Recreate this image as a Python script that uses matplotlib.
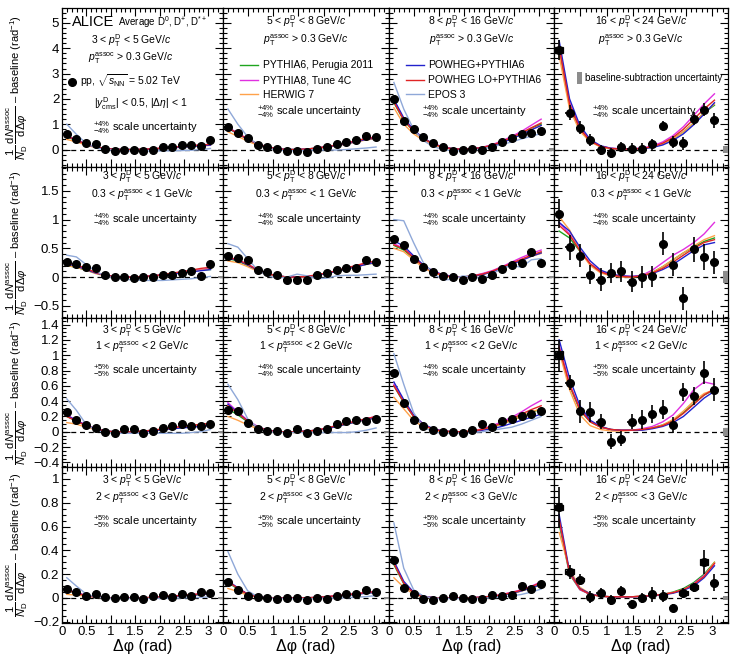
import matplotlib
matplotlib.use("Agg")
import matplotlib.pyplot as plt
from matplotlib.lines import Line2D
from matplotlib.patches import Patch, Rectangle
from matplotlib.ticker import MultipleLocator, FuncFormatter

plt.rcParams['font.family'] = ['Liberation Sans', 'DejaVu Sans']
plt.rcParams['mathtext.fontset'] = 'custom'
plt.rcParams['mathtext.rm'] = 'Liberation Sans'
plt.rcParams['mathtext.it'] = 'Liberation Sans:italic'
plt.rcParams['mathtext.bf'] = 'Liberation Sans:bold'

# ---------------- data ----------------
dphi = [0.098, 0.295, 0.491, 0.687, 0.884, 1.080, 1.276, 1.473,
        1.669, 1.865, 2.062, 2.258, 2.454, 2.651, 2.847, 3.043]

ptd_labels = ["3 < $p_{\\rm T}^{\\rm D}$ < 5 GeV/$c$",
              "5 < $p_{\\rm T}^{\\rm D}$ < 8 GeV/$c$",
              "8 < $p_{\\rm T}^{\\rm D}$ < 16 GeV/$c$",
              "16 < $p_{\\rm T}^{\\rm D}$ < 24 GeV/$c$"]
assoc_labels = ["$p_{\\rm T}^{\\rm assoc}$ > 0.3 GeV/$c$",
                "0.3 < $p_{\\rm T}^{\\rm assoc}$ < 1 GeV/$c$",
                "1 < $p_{\\rm T}^{\\rm assoc}$ < 2 GeV/$c$",
                "2 < $p_{\\rm T}^{\\rm assoc}$ < 3 GeV/$c$"]
scale_unc = [[4, 4, 4, 4], [4, 4, 4, 4], [5, 4, 4, 5], [5, 5, 5, 5]]
baseline_unc = [[0.03, 0.04, 0.05, 0.14], [0.01, 0.02, 0.02, 0.1],
                [0.01, 0.01, 0.01, 0.05], [0.005, 0.005, 0.005, 0.02]]

# Row 1: pT assoc > 0.3
data_r1 = [[0.61, 0.43, 0.26, 0.21, 0.04, -0.05, 0.0, -0.03, -0.05, 0.0, 0.11, 0.11, 0.17, 0.17, 0.13, 0.37],
           [0.9, 0.67, 0.47, 0.17, 0.1, 0.04, -0.07, -0.05, -0.09, 0.04, 0.1, 0.21, 0.3, 0.37, 0.53, 0.5],
           [2.0, 1.13, 0.83, 0.5, 0.24, 0.1, -0.05, -0.03, 0.04, 0.0, 0.1, 0.3, 0.47, 0.6, 0.66, 0.72],
           [3.92, 1.45, 0.86, 0.37, -0.03, -0.13, 0.1, 0.04, 0.04, 0.21, 0.92, 0.3, 0.24, 1.22, 1.58, 1.16]]
err_r1 = [[0.04, 0.04, 0.04, 0.04, 0.04, 0.04, 0.04, 0.04, 0.04, 0.04, 0.04, 0.04, 0.04, 0.04, 0.04, 0.05],
          [0.05, 0.05, 0.05, 0.05, 0.05, 0.05, 0.05, 0.05, 0.05, 0.05, 0.05, 0.05, 0.05, 0.05, 0.05, 0.05],
          [0.08, 0.07, 0.07, 0.06, 0.06, 0.06, 0.06, 0.06, 0.06, 0.06, 0.06, 0.06, 0.06, 0.06, 0.07, 0.07],
          [0.4, 0.3, 0.25, 0.25, 0.2, 0.2, 0.2, 0.2, 0.2, 0.22, 0.2, 0.22, 0.25, 0.25, 0.25, 0.3]]
p6_r1 = [[0.5, 0.35, 0.2, 0.1, 0.04, 0.01, 0.0, 0.0, 0.01, 0.03, 0.05, 0.08, 0.11, 0.14, 0.17, 0.19],
         [0.85, 0.62, 0.4, 0.22, 0.1, 0.03, 0.0, 0.0, 0.02, 0.06, 0.11, 0.17, 0.25, 0.33, 0.42, 0.48],
         [1.85, 1.15, 0.72, 0.42, 0.22, 0.09, 0.03, 0.01, 0.03, 0.08, 0.17, 0.3, 0.46, 0.64, 0.84, 1.0],
         [4.0, 1.75, 0.8, 0.33, 0.12, 0.04, 0.02, 0.02, 0.04, 0.1, 0.22, 0.42, 0.7, 1.05, 1.45, 1.75]]
p8_r1 = [[0.55, 0.38, 0.22, 0.11, 0.04, 0.01, 0.0, 0.0, 0.01, 0.03, 0.06, 0.09, 0.12, 0.15, 0.18, 0.21],
         [0.88, 0.65, 0.42, 0.23, 0.1, 0.03, 0.0, 0.0, 0.02, 0.06, 0.12, 0.18, 0.26, 0.35, 0.44, 0.5],
         [1.92, 1.2, 0.75, 0.44, 0.23, 0.1, 0.03, 0.01, 0.03, 0.09, 0.19, 0.34, 0.52, 0.72, 0.96, 1.2],
         [4.1, 1.85, 0.85, 0.35, 0.13, 0.05, 0.03, 0.03, 0.06, 0.14, 0.3, 0.55, 0.9, 1.35, 1.8, 2.2]]
hw_r1 = [[0.4, 0.3, 0.18, 0.08, 0.02, 0.0, -0.01, -0.01, 0.0, 0.02, 0.04, 0.07, 0.1, 0.13, 0.15, 0.17],
         [0.7, 0.52, 0.33, 0.17, 0.07, 0.01, -0.02, -0.02, 0.0, 0.04, 0.09, 0.15, 0.22, 0.3, 0.38, 0.43],
         [1.65, 1.0, 0.62, 0.36, 0.18, 0.07, 0.01, -0.01, 0.01, 0.06, 0.15, 0.28, 0.44, 0.62, 0.8, 0.95],
         [3.7, 1.6, 0.72, 0.3, 0.1, 0.03, 0.01, 0.02, 0.04, 0.1, 0.22, 0.42, 0.7, 1.05, 1.45, 1.8]]
pw_r1 = [[0.52, 0.37, 0.21, 0.1, 0.04, 0.01, 0.0, 0.0, 0.0, 0.02, 0.04, 0.07, 0.09, 0.12, 0.15, 0.17],
         [0.85, 0.63, 0.4, 0.22, 0.1, 0.03, 0.0, 0.0, 0.01, 0.05, 0.1, 0.16, 0.23, 0.31, 0.4, 0.46],
         [1.98, 1.25, 0.78, 0.45, 0.23, 0.1, 0.03, 0.0, 0.02, 0.07, 0.15, 0.27, 0.42, 0.6, 0.78, 0.95],
         [4.3, 2.0, 0.95, 0.4, 0.15, 0.05, 0.02, 0.02, 0.03, 0.08, 0.18, 0.36, 0.62, 0.98, 1.4, 1.85]]
pwlo_r1 = [[0.53, 0.37, 0.21, 0.1, 0.04, 0.01, 0.0, 0.0, 0.01, 0.03, 0.06, 0.09, 0.12, 0.15, 0.18, 0.2],
           [0.86, 0.63, 0.41, 0.22, 0.1, 0.03, 0.0, 0.0, 0.02, 0.06, 0.11, 0.18, 0.26, 0.34, 0.43, 0.49],
           [1.88, 1.17, 0.73, 0.43, 0.22, 0.09, 0.03, 0.01, 0.03, 0.08, 0.17, 0.31, 0.48, 0.66, 0.86, 1.05],
           [4.05, 1.8, 0.82, 0.34, 0.12, 0.04, 0.02, 0.02, 0.04, 0.11, 0.25, 0.48, 0.8, 1.2, 1.6, 1.95]]
epos_r1 = [[1.0, 0.6, 0.25, 0.07, 0.0, -0.03, -0.05, -0.06, -0.06, -0.06, -0.05, -0.05, -0.04, -0.03, 0.0, 0.04],
           [1.6, 1.0, 0.5, 0.2, 0.05, -0.02, -0.05, -0.05, -0.03, -0.02, -0.02, -0.02, 0.0, 0.03, 0.06, 0.1],
           [2.65, 1.6, 0.8, 0.35, 0.12, 0.0, -0.05, -0.05, -0.03, 0.02, 0.1, 0.2, 0.3, 0.42, 0.53, 0.63]]

# Row 2: 0.3 < pT assoc < 1
data_r2 = [[0.27, 0.23, 0.17, 0.15, 0.04, 0.0, 0.0, -0.02, 0.0, 0.0, 0.04, 0.04, 0.07, 0.1, 0.02, 0.23],
           [0.36, 0.33, 0.29, 0.13, 0.09, 0.04, -0.06, -0.06, -0.06, 0.04, 0.07, 0.13, 0.16, 0.16, 0.3, 0.26],
           [0.67, 0.56, 0.31, 0.17, 0.09, 0.01, 0.0, -0.06, 0.0, -0.03, 0.04, 0.14, 0.21, 0.24, 0.43, 0.24],
           [1.10, 0.52, 0.37, 0.04, -0.05, 0.07, 0.1, -0.08, 0.0, 0.01, 0.58, 0.21, -0.37, 0.48, 0.35, 0.26]]
err_r2 = [[0.03, 0.03, 0.03, 0.03, 0.03, 0.03, 0.03, 0.03, 0.03, 0.03, 0.03, 0.03, 0.03, 0.03, 0.03, 0.04],
          [0.03, 0.03, 0.03, 0.03, 0.03, 0.03, 0.03, 0.03, 0.03, 0.03, 0.03, 0.03, 0.03, 0.03, 0.03, 0.03],
          [0.05, 0.05, 0.04, 0.04, 0.04, 0.04, 0.04, 0.04, 0.04, 0.04, 0.04, 0.04, 0.04, 0.04, 0.04, 0.04],
          [0.25, 0.22, 0.2, 0.17, 0.2, 0.18, 0.18, 0.18, 0.2, 0.18, 0.2, 0.2, 0.2, 0.22, 0.22, 0.2]]
p6_r2 = [[0.2, 0.17, 0.12, 0.07, 0.03, 0.01, 0.0, 0.0, 0.01, 0.02, 0.04, 0.06, 0.08, 0.1, 0.12, 0.13],
         [0.32, 0.28, 0.2, 0.12, 0.06, 0.02, 0.0, 0.0, 0.01, 0.03, 0.06, 0.1, 0.14, 0.18, 0.22, 0.25],
         [0.55, 0.47, 0.33, 0.19, 0.09, 0.03, 0.0, 0.0, 0.02, 0.05, 0.1, 0.16, 0.23, 0.3, 0.37, 0.42],
         [0.8, 0.68, 0.45, 0.22, 0.09, 0.03, 0.01, 0.0, 0.02, 0.08, 0.18, 0.3, 0.42, 0.52, 0.62, 0.68]]
p8_r2 = [[0.24, 0.2, 0.14, 0.08, 0.03, 0.01, 0.0, 0.0, 0.01, 0.02, 0.04, 0.06, 0.09, 0.11, 0.13, 0.15],
         [0.35, 0.3, 0.22, 0.13, 0.06, 0.02, 0.0, 0.0, 0.01, 0.03, 0.07, 0.11, 0.15, 0.2, 0.24, 0.28],
         [0.58, 0.5, 0.35, 0.2, 0.1, 0.04, 0.01, 0.0, 0.02, 0.06, 0.11, 0.18, 0.26, 0.34, 0.41, 0.47],
         [0.95, 0.75, 0.47, 0.23, 0.1, 0.04, 0.02, 0.01, 0.03, 0.12, 0.25, 0.38, 0.48, 0.6, 0.75, 0.95]]
hw_r2 = [[0.2, 0.17, 0.12, 0.06, 0.02, 0.0, -0.01, -0.01, 0.0, 0.01, 0.03, 0.05, 0.08, 0.1, 0.12, 0.14],
         [0.28, 0.25, 0.18, 0.1, 0.04, 0.01, -0.01, -0.01, 0.0, 0.03, 0.06, 0.1, 0.14, 0.18, 0.22, 0.25],
         [0.5, 0.44, 0.3, 0.16, 0.07, 0.02, -0.01, -0.01, 0.01, 0.04, 0.09, 0.15, 0.22, 0.29, 0.36, 0.41],
         [1.05, 0.82, 0.45, 0.2, 0.07, 0.02, 0.0, 0.0, 0.02, 0.08, 0.18, 0.3, 0.42, 0.54, 0.65, 0.72]]
pw_r2 = [[0.23, 0.19, 0.13, 0.07, 0.03, 0.01, 0.0, 0.0, 0.0, 0.02, 0.03, 0.05, 0.07, 0.09, 0.11, 0.13],
         [0.33, 0.29, 0.21, 0.12, 0.06, 0.02, 0.0, 0.0, 0.01, 0.03, 0.06, 0.1, 0.14, 0.18, 0.22, 0.26],
         [0.63, 0.54, 0.37, 0.21, 0.1, 0.04, 0.01, 0.0, 0.01, 0.04, 0.09, 0.15, 0.22, 0.29, 0.36, 0.42],
         [0.95, 0.8, 0.52, 0.28, 0.12, 0.05, 0.02, 0.01, 0.02, 0.06, 0.13, 0.22, 0.34, 0.46, 0.56, 0.6]]
pwlo_r2 = [[0.25, 0.21, 0.15, 0.08, 0.03, 0.01, 0.0, 0.0, 0.01, 0.02, 0.04, 0.07, 0.09, 0.12, 0.15, 0.17],
           [0.34, 0.3, 0.22, 0.13, 0.06, 0.02, 0.0, 0.0, 0.01, 0.04, 0.07, 0.11, 0.16, 0.2, 0.25, 0.28],
           [0.56, 0.49, 0.34, 0.19, 0.09, 0.03, 0.0, 0.0, 0.02, 0.05, 0.1, 0.17, 0.24, 0.31, 0.38, 0.44],
           [0.9, 0.73, 0.46, 0.23, 0.09, 0.03, 0.01, 0.0, 0.02, 0.07, 0.15, 0.26, 0.38, 0.5, 0.6, 0.65]]
epos_r2 = [[0.38, 0.35, 0.22, 0.1, 0.02, -0.02, -0.04, -0.05, -0.06, -0.06, -0.06, -0.05, -0.04, -0.03, -0.01, 0.01],
           [0.58, 0.52, 0.32, 0.12, 0.02, -0.02, 0.0, 0.05, 0.02, -0.03, -0.02, 0.02, 0.03, 0.03, 0.04, 0.05],
           [1.0, 0.98, 0.6, 0.25, 0.06, -0.05, -0.04, 0.02, 0.0, -0.03, 0.05, 0.15, 0.2, 0.17, 0.3, 0.32]]

# Row 3: 1 < pT assoc < 2
data_r3 = [[0.26, 0.16, 0.09, 0.05, 0.0, -0.02, 0.04, 0.035, -0.01, 0.01, 0.05, 0.07, 0.1, 0.07, 0.07, 0.1],
           [0.29, 0.27, 0.12, 0.04, 0.01, 0.01, -0.01, 0.03, -0.01, 0.01, 0.04, 0.1, 0.14, 0.16, 0.14, 0.17],
           [0.77, 0.38, 0.16, 0.07, 0.02, 0.0, 0.0, -0.01, 0.02, 0.1, 0.06, 0.14, 0.17, 0.21, 0.23, 0.27],
           [1.0, 0.64, 0.27, 0.26, 0.13, -0.13, -0.09, 0.13, 0.16, 0.23, 0.29, 0.09, 0.52, 0.47, 0.77, 0.55]]
err_r3 = [[0.02, 0.02, 0.02, 0.02, 0.02, 0.02, 0.02, 0.02, 0.02, 0.02, 0.02, 0.02, 0.02, 0.02, 0.02, 0.02],
          [0.02, 0.02, 0.02, 0.02, 0.02, 0.02, 0.02, 0.02, 0.02, 0.02, 0.02, 0.02, 0.02, 0.02, 0.02, 0.02],
          [0.04, 0.03, 0.03, 0.03, 0.03, 0.03, 0.03, 0.03, 0.03, 0.03, 0.03, 0.03, 0.03, 0.03, 0.03, 0.03],
          [0.2, 0.1, 0.15, 0.13, 0.1, 0.1, 0.1, 0.1, 0.12, 0.12, 0.12, 0.1, 0.12, 0.12, 0.15, 0.15]]
p6_r3 = [[0.2, 0.14, 0.08, 0.04, 0.01, 0.0, 0.0, 0.0, 0.01, 0.02, 0.03, 0.05, 0.06, 0.07, 0.08, 0.09],
         [0.3, 0.22, 0.13, 0.06, 0.02, 0.0, 0.0, 0.0, 0.01, 0.02, 0.04, 0.07, 0.1, 0.13, 0.16, 0.18],
         [0.6, 0.38, 0.2, 0.09, 0.03, 0.01, 0.0, 0.0, 0.01, 0.03, 0.06, 0.1, 0.15, 0.2, 0.25, 0.3],
         [1.1, 0.6, 0.28, 0.13, 0.06, 0.03, 0.02, 0.02, 0.03, 0.05, 0.09, 0.15, 0.25, 0.37, 0.48, 0.55]]
p8_r3 = [[0.22, 0.15, 0.09, 0.04, 0.01, 0.0, 0.0, 0.0, 0.01, 0.02, 0.03, 0.05, 0.07, 0.08, 0.09, 0.1],
         [0.38, 0.26, 0.15, 0.07, 0.02, 0.0, 0.0, 0.0, 0.01, 0.02, 0.05, 0.08, 0.11, 0.14, 0.17, 0.2],
         [0.62, 0.4, 0.21, 0.1, 0.03, 0.01, 0.0, 0.0, 0.01, 0.04, 0.08, 0.13, 0.19, 0.26, 0.34, 0.41],
         [1.12, 0.62, 0.3, 0.14, 0.06, 0.03, 0.02, 0.02, 0.04, 0.07, 0.13, 0.22, 0.37, 0.55, 0.65, 0.62]]
hw_r3 = [[0.12, 0.1, 0.06, 0.03, 0.0, -0.01, -0.01, 0.0, 0.0, 0.01, 0.03, 0.04, 0.06, 0.07, 0.08, 0.09],
         [0.2, 0.15, 0.09, 0.04, 0.01, -0.01, -0.01, -0.01, 0.0, 0.02, 0.04, 0.07, 0.1, 0.13, 0.16, 0.18],
         [0.45, 0.3, 0.15, 0.06, 0.01, -0.01, -0.01, 0.0, 0.01, 0.03, 0.06, 0.1, 0.15, 0.2, 0.26, 0.3],
         [1.05, 0.55, 0.22, 0.08, 0.03, 0.01, 0.01, 0.02, 0.03, 0.05, 0.09, 0.16, 0.27, 0.4, 0.5, 0.55]]
pw_r3 = [[0.21, 0.15, 0.08, 0.04, 0.01, 0.0, 0.0, 0.0, 0.0, 0.01, 0.03, 0.04, 0.05, 0.06, 0.07, 0.08],
         [0.36, 0.25, 0.14, 0.06, 0.02, 0.0, 0.0, 0.0, 0.01, 0.02, 0.04, 0.07, 0.1, 0.13, 0.16, 0.18],
         [0.65, 0.42, 0.22, 0.1, 0.04, 0.01, 0.0, 0.0, 0.0, 0.02, 0.04, 0.07, 0.11, 0.15, 0.19, 0.23],
         [1.2, 0.7, 0.34, 0.15, 0.07, 0.03, 0.02, 0.02, 0.02, 0.04, 0.07, 0.12, 0.2, 0.32, 0.44, 0.53]]
pwlo_r3 = [[0.2, 0.14, 0.08, 0.04, 0.01, 0.0, 0.0, 0.0, 0.01, 0.02, 0.04, 0.05, 0.07, 0.08, 0.1, 0.11],
           [0.34, 0.24, 0.14, 0.06, 0.02, 0.0, 0.0, 0.0, 0.01, 0.02, 0.05, 0.08, 0.11, 0.14, 0.17, 0.2],
           [0.6, 0.39, 0.2, 0.09, 0.03, 0.01, 0.0, 0.0, 0.01, 0.03, 0.07, 0.11, 0.17, 0.23, 0.29, 0.34],
           [1.1, 0.62, 0.29, 0.13, 0.06, 0.03, 0.02, 0.02, 0.03, 0.05, 0.08, 0.14, 0.24, 0.36, 0.48, 0.56]]
epos_r3 = [[0.43, 0.28, 0.1, 0.02, -0.01, -0.02, -0.02, -0.02, -0.02, -0.02, -0.02, -0.02, -0.02, -0.01, 0.0, 0.03],
           [0.62, 0.42, 0.17, 0.05, 0.0, -0.01, -0.01, -0.01, -0.01, -0.01, -0.01, -0.01, -0.01, 0.0, 0.02, 0.05],
           [1.02, 0.62, 0.25, 0.06, 0.0, -0.02, -0.02, -0.02, -0.01, 0.0, 0.02, 0.04, 0.06, 0.1, 0.15, 0.2]]

# Row 4: 2 < pT assoc < 3
data_r4 = [[0.076, 0.048, 0.014, 0.036, 0.008, 0.0, 0.008, 0.008, -0.006, 0.02, 0.022, 0.008, 0.036, 0.02, 0.048, 0.042],
           [0.134, 0.07, 0.014, 0.008, 0.003, -0.006, 0.003, 0.003, -0.014, 0.003, -0.011, 0.014, 0.036, 0.03, 0.07, 0.05],
           [0.32, 0.087, 0.03, -0.006, -0.014, 0.003, 0.017, 0.0, -0.011, -0.01, 0.028, 0.017, 0.028, 0.1, 0.076, 0.12],
           [0.76, 0.22, 0.155, 0.01, 0.04, -0.015, 0.06, -0.05, 0.0, 0.03, 0.02, -0.08, 0.04, 0.09, 0.3, 0.13]]
err_r4 = [[0.012, 0.01, 0.01, 0.01, 0.01, 0.01, 0.01, 0.01, 0.01, 0.01, 0.01, 0.01, 0.01, 0.01, 0.01, 0.012],
          [0.015, 0.012, 0.01, 0.01, 0.01, 0.01, 0.01, 0.01, 0.01, 0.01, 0.01, 0.01, 0.01, 0.01, 0.012, 0.012],
          [0.025, 0.015, 0.015, 0.015, 0.015, 0.015, 0.015, 0.015, 0.015, 0.015, 0.015, 0.015, 0.015, 0.015, 0.015, 0.015],
          [0.17, 0.06, 0.05, 0.05, 0.04, 0.04, 0.04, 0.03, 0.04, 0.06, 0.05, 0.03, 0.04, 0.04, 0.1, 0.07]]
p6_r4 = [[0.065, 0.04, 0.02, 0.008, 0.003, 0.0, 0.0, 0.0, 0.002, 0.005, 0.01, 0.015, 0.02, 0.025, 0.03, 0.035],
         [0.13, 0.075, 0.03, 0.01, 0.003, 0.0, 0.0, 0.0, 0.002, 0.005, 0.01, 0.017, 0.025, 0.034, 0.043, 0.05],
         [0.28, 0.12, 0.04, 0.012, 0.003, 0.0, 0.0, 0.0, 0.002, 0.006, 0.013, 0.024, 0.04, 0.06, 0.085, 0.11],
         [0.62, 0.2, 0.07, 0.03, 0.015, 0.01, 0.01, 0.01, 0.015, 0.02, 0.03, 0.05, 0.08, 0.13, 0.2, 0.3]]
p8_r4 = [[0.07, 0.045, 0.022, 0.009, 0.003, 0.0, 0.0, 0.0, 0.002, 0.006, 0.011, 0.017, 0.023, 0.029, 0.035, 0.04],
         [0.14, 0.08, 0.032, 0.011, 0.003, 0.0, 0.0, 0.0, 0.002, 0.006, 0.012, 0.02, 0.028, 0.037, 0.047, 0.055],
         [0.3, 0.13, 0.045, 0.013, 0.003, 0.0, 0.0, 0.0, 0.003, 0.008, 0.016, 0.03, 0.048, 0.07, 0.1, 0.135],
         [0.65, 0.21, 0.07, 0.03, 0.015, 0.01, 0.01, 0.01, 0.015, 0.02, 0.03, 0.045, 0.07, 0.12, 0.19, 0.29]]
hw_r4 = [[0.03, 0.025, 0.015, 0.006, 0.001, -0.002, -0.002, -0.001, 0.001, 0.005, 0.01, 0.015, 0.02, 0.026, 0.032, 0.036],
         [0.08, 0.055, 0.022, 0.007, 0.0, -0.003, -0.003, -0.002, 0.0, 0.004, 0.009, 0.016, 0.024, 0.033, 0.042, 0.048],
         [0.17, 0.09, 0.032, 0.008, 0.0, -0.003, -0.003, -0.002, 0.0, 0.005, 0.012, 0.023, 0.038, 0.058, 0.085, 0.115],
         [0.55, 0.24, 0.09, 0.035, 0.015, 0.01, 0.01, 0.01, 0.015, 0.02, 0.03, 0.045, 0.07, 0.11, 0.18, 0.3]]
pw_r4 = [[0.068, 0.042, 0.02, 0.008, 0.003, 0.0, 0.0, 0.0, 0.001, 0.004, 0.008, 0.013, 0.018, 0.024, 0.029, 0.034],
         [0.145, 0.085, 0.033, 0.011, 0.003, 0.0, 0.0, 0.0, 0.001, 0.004, 0.009, 0.015, 0.023, 0.031, 0.04, 0.047],
         [0.31, 0.14, 0.05, 0.015, 0.004, 0.0, 0.0, 0.0, 0.002, 0.006, 0.013, 0.024, 0.04, 0.06, 0.085, 0.115],
         [0.7, 0.22, 0.08, 0.035, 0.015, 0.01, 0.01, 0.01, 0.012, 0.018, 0.026, 0.04, 0.065, 0.1, 0.17, 0.27]]
pwlo_r4 = [[0.066, 0.041, 0.02, 0.008, 0.003, 0.0, 0.0, 0.0, 0.002, 0.005, 0.01, 0.016, 0.022, 0.028, 0.035, 0.04],
           [0.14, 0.08, 0.031, 0.01, 0.003, 0.0, 0.0, 0.0, 0.002, 0.005, 0.011, 0.019, 0.027, 0.036, 0.046, 0.054],
           [0.29, 0.125, 0.042, 0.012, 0.003, 0.0, 0.0, 0.0, 0.003, 0.007, 0.015, 0.028, 0.045, 0.066, 0.095, 0.13],
           [0.66, 0.21, 0.075, 0.03, 0.015, 0.01, 0.01, 0.01, 0.015, 0.02, 0.03, 0.045, 0.07, 0.115, 0.18, 0.29]]
epos_r4 = [[0.17, 0.1, 0.035, 0.008, 0.0, -0.003, -0.004, -0.004, -0.004, -0.004, -0.003, -0.002, 0.0, 0.002, 0.005, 0.01],
           [0.39, 0.2, 0.06, 0.012, 0.0, -0.004, -0.005, -0.005, -0.005, -0.004, -0.003, -0.001, 0.002, 0.006, 0.012, 0.02],
           [0.63, 0.25, 0.07, 0.015, 0.0, -0.004, -0.005, -0.005, -0.004, -0.002, 0.002, 0.008, 0.018, 0.03, 0.05, 0.075]]

# systematic boxes (visible in highest pT^D column)
syst_c4 = [[0.12, 0.0, 0.0, 0.0, 0.0, 0.0, 0.0, 0.0, 0.0, 0.0, 0.0, 0.0, 0.0, 0.0, 0.0, 0.0],
           [0.0, 0.0, 0.0, 0.0, 0.0, 0.0, 0.0, 0.0, 0.0, 0.0, 0.0, 0.0, 0.0, 0.0, 0.0, 0.0],
           [0.05, 0.0, 0.0, 0.0, 0.0, 0.0, 0.0, 0.0, 0.0, 0.0, 0.0, 0.0, 0.0, 0.0, 0.0, 0.0],
           [0.025, 0.02, 0.015, 0.0, 0.0, 0.0, 0.0, 0.0, 0.0, 0.0, 0.015, 0.0, 0.015, 0.015, 0.025, 0.0]]

rows = [
    dict(data=data_r1, err=err_r1, p6=p6_r1, p8=p8_r1, hw=hw_r1, pw=pw_r1, pwlo=pwlo_r1, epos=epos_r1),
    dict(data=data_r2, err=err_r2, p6=p6_r2, p8=p8_r2, hw=hw_r2, pw=pw_r2, pwlo=pwlo_r2, epos=epos_r2),
    dict(data=data_r3, err=err_r3, p6=p6_r3, p8=p8_r3, hw=hw_r3, pw=pw_r3, pwlo=pwlo_r3, epos=epos_r3),
    dict(data=data_r4, err=err_r4, p6=p6_r4, p8=p8_r4, hw=hw_r4, pw=pw_r4, pwlo=pwlo_r4, epos=epos_r4),
]

model_names = ["PYTHIA6, Perugia 2011", "PYTHIA8, Tune 4C", "HERWIG 7",
               "POWHEG+PYTHIA6", "POWHEG LO+PYTHIA6", "EPOS 3"]
model_keys = ["p6", "p8", "hw", "pw", "pwlo", "epos"]
model_colors = ["#1fa51f", "#e030e0", "#ffa24a", "#2222cc", "#e02424", "#8fa8d8"]

ylims = [(-0.69, 5.59), (-0.714, 1.916), (-0.46, 1.486), (-0.21, 1.10)]
ymajor = [1.0, 0.5, 0.2, 0.2]
yminor = [0.2, 0.1, 0.05, 0.05]
text_y = [(0.912, 0.80, 0.346), (0.934, 0.815, 0.65), (0.913, 0.805, 0.65), (0.91, 0.80, 0.65)]

# ---------------- layout ----------------
W, H = 736, 656
fig = plt.figure(figsize=(W / 100, H / 100), dpi=100)
col_edges = [62, 223, 389, 554, 728]
row_edges = [8, 167, 318, 467, 623]

fmt = FuncFormatter(lambda v, p: ("%g" % round(v, 4)).replace("-", "\u2212") if abs(v) > 1e-9 else "0")

ylabel = (r"$\dfrac{1}{N_{\rm D}}\,\dfrac{{\rm d}N^{\rm assoc}}{{\rm d}\Delta\varphi}$"
          " \u2013 baseline (rad$^{-1}$)")

FS = 7.5
for r in range(4):
    R = rows[r]
    for c in range(4):
        x0, x1 = col_edges[c], col_edges[c + 1]
        y0, y1 = row_edges[r], row_edges[r + 1]
        ax = fig.add_axes([x0 / W, 1 - y1 / H, (x1 - x0) / W, (y1 - y0) / H])
        ax.set_xlim(0, 3.3)
        ax.set_ylim(*ylims[r])
        ax.axhline(0, color="black", lw=0.9, ls=(0, (4, 3)), zorder=1)

        # models
        for key, col in zip(model_keys, model_colors):
            vals = R[key]
            if c < len(vals):
                ax.plot(dphi, vals[c], color=col, lw=1.0, zorder=2)

        # baseline subtraction uncertainty
        b = baseline_unc[r][c]
        ax.add_patch(Rectangle((3.2, -b), 0.1, 2 * b, facecolor="#8c8c8c",
                               edgecolor="none", zorder=3))

        # systematic boxes
        if c == 3:
            for xv, yv, s in zip(dphi, R["data"][c], syst_c4[r]):
                if s > 0:
                    ax.add_patch(Rectangle((xv - 0.08, yv - s), 0.16, 2 * s, fill=False,
                                           edgecolor="black", lw=0.9, zorder=4))

        # data
        ax.errorbar(dphi, R["data"][c], yerr=R["err"][c], xerr=0.08, fmt="o",
                    color="black", ms=5.5, elinewidth=1.2, capsize=0, zorder=5)

        # ticks
        ax.xaxis.set_major_locator(MultipleLocator(0.5))
        ax.xaxis.set_minor_locator(MultipleLocator(0.1))
        ax.yaxis.set_major_locator(MultipleLocator(ymajor[r]))
        ax.yaxis.set_minor_locator(MultipleLocator(yminor[r]))
        ax.tick_params(which="both", direction="in", top=True, right=True,
                       labelsize=9.5, width=0.8, pad=2)
        ax.tick_params(which="major", length=6)
        ax.tick_params(which="minor", length=3)
        ax.yaxis.set_major_formatter(fmt)
        ax.xaxis.set_major_formatter(fmt)
        if c > 0:
            ax.tick_params(labelleft=False)
        if r < 3:
            ax.tick_params(labelbottom=False)
        else:
            ax.set_xlabel("\u0394\u03c6 (rad)", fontsize=11.5, labelpad=1)
        for sp in ax.spines.values():
            sp.set_linewidth(0.9)

        ty1, ty2, ty3 = text_y[r]
        su = scale_unc[r][c]
        stxt = r"$^{+%d\%%}_{-%d\%%}$ scale uncertainty" % (su, su)
        if r == 0 and c == 0:
            ax.text(0.062, 0.912, "ALICE", transform=ax.transAxes, fontsize=10.5,
                    va="center", ha="left")
            ax.text(0.345, 0.912, "Average D$^{0}$, D$^{+}$, D$^{*+}$", transform=ax.transAxes,
                    fontsize=7.0, va="center", ha="left")
            ax.text(0.43, 0.792, ptd_labels[c], transform=ax.transAxes, fontsize=FS,
                    va="center", ha="center")
            ax.text(0.43, 0.686, assoc_labels[r], transform=ax.transAxes, fontsize=FS,
                    va="center", ha="center")
            h = Line2D([], [], marker="o", color="black", ls="none", ms=5.5)
            ax.legend([h], ["pp, $\\sqrt{s_{\\rm NN}}$ = 5.02 TeV"], loc="center left",
                      bbox_to_anchor=(0.03, 0.541), frameon=False, fontsize=FS,
                      handlelength=1.0, handletextpad=0.3, borderpad=0, borderaxespad=0)
            ax.text(0.49, 0.40, "|$y^{\\rm D}_{\\rm cms}$| < 0.5, |$\\Delta\\eta$| < 1",
                    transform=ax.transAxes, fontsize=FS, va="center", ha="center")
            ax.text(0.515, 0.245, stxt, transform=ax.transAxes, fontsize=8,
                    va="center", ha="center")
        else:
            ax.text(0.5, ty1, ptd_labels[c], transform=ax.transAxes, fontsize=FS,
                    va="center", ha="center")
            ax.text(0.5, ty2, assoc_labels[r], transform=ax.transAxes, fontsize=FS,
                    va="center", ha="center")
            ax.text(0.52, ty3, stxt, transform=ax.transAxes, fontsize=8,
                    va="center", ha="center")

        if r == 0 and c in (1, 2):
            idx = [0, 1, 2] if c == 1 else [3, 4, 5]
            hs = [Line2D([], [], color=model_colors[i], lw=1.0) for i in idx]
            ax.legend(hs, [model_names[i] for i in idx], loc="upper left",
                      bbox_to_anchor=(0.10, 0.67), frameon=False, fontsize=FS,
                      handlelength=1.8, handletextpad=0.4, borderpad=0,
                      borderaxespad=0, labelspacing=0.45)
        if r == 0 and c == 3:
            hp = Patch(facecolor="#8c8c8c", edgecolor="none")
            ax.legend([hp], ["baseline-subtraction uncertainty"], loc="center left",
                      bbox_to_anchor=(0.135, 0.56), frameon=False, fontsize=7,
                      handlelength=0.5, handleheight=1.4, handletextpad=0.3,
                      borderpad=0, borderaxespad=0)

    yc = 1 - (row_edges[r] + row_edges[r + 1]) / 2 / H
    fig.text(0.023, yc, ylabel, rotation=90, fontsize=8, ha="center", va="center")

fig.savefig("out.png", dpi=100)
